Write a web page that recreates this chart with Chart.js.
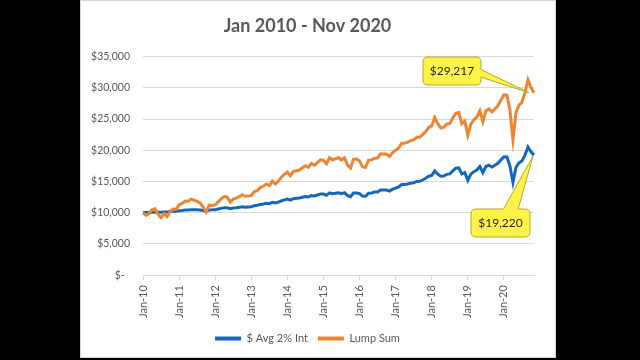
<!DOCTYPE html>
<html>
<head>
<meta charset="utf-8">
<script src="https://cdn.jsdelivr.net/npm/chart.js@4.4.1/dist/chart.umd.min.js"></script>
<style>
  html, body { margin: 0; padding: 0; background: #000; width: 640px; height: 360px; overflow: hidden; }
  #frame { position: absolute; left: 80px; top: 0px; width: 476px; height: 358px; box-sizing: border-box;
           border: 1px solid #d4d4d4; background: #fff; }
  #wrap { position: absolute; left: 0; top: 0; width: 474px; height: 356px; }
</style>
</head>
<body>
<div id="frame"><div id="wrap"><canvas id="c"></canvas></div></div>
<script>
// ---- data ----
const MONTHS = ['Jan','Feb','Mar','Apr','May','Jun','Jul','Aug','Sep','Oct','Nov','Dec'];
const YEARS = ['10','11','12','13','14','15','16','17','18','19','20'];
const categories = [];
YEARS.forEach(y => MONTHS.forEach(m => categories.push(m + '-' + y)));
categories.length = 131; // Jan-10 .. Nov-20

const avgSeries = [10000,10029,10050,10079,10100,10082,10073,10124,10110,10185,10230,10245,10325,
10365,10419,10433,10489,10482,10467,10446,10363,10258,10449,10454,10485,
10589,10693,10781,10776,10625,10738,10785,10854,10939,10891,10914,10950,
11129,11180,11324,11407,11502,11452,11672,11544,11687,11907,12056,12190,
12010,12247,12296,12342,12473,12598,12516,12758,12668,12829,13003,12984,
12778,13161,13044,13115,13201,13052,13208,12738,12556,13158,13172,13043,
12653,12630,13137,13167,13301,13317,13629,13627,13623,13455,13769,13947,
14125,14498,14501,14602,14730,14788,15004,15017,15241,15504,15843,15970,
16676,16165,15825,15865,16144,16211,16691,17111,17176,16186,16431,15175,
16167,16576,16832,17403,16414,17395,17599,17321,17589,17912,18462,18941,
18916,17465,14850,17260,17980,18288,19229,20496,19738,19220];

const lumpSeries = [9963,9595,9869,10449,10603,9734,9209,9843,9376,10197,10572,10548,11237,
11492,11859,11846,12184,12019,11800,11547,10891,10109,11198,11142,11237,
11726,12202,12585,12490,11708,12171,12324,12568,12872,12618,12654,12743,
13386,13534,14021,14274,14571,14352,15062,14591,15025,15695,16135,16515,
15927,16614,16729,16833,17187,17515,17251,17900,17623,18031,18474,18396,
17825,18804,18477,18634,18830,18434,18798,17621,17156,18579,18589,18263,
17336,17265,18404,18453,18736,18753,19421,19398,19374,18997,19647,20004,
20362,21119,21111,21303,21550,21653,22072,22084,22510,23010,23656,23889,
25231,24248,23596,23660,24172,24289,25164,25925,26037,24229,24662,22399,
24162,24880,25326,26321,24590,26285,26630,26148,26598,27141,28065,28867,
28820,26396,21700,26023,27201,27701,29228,31275,30048,29217];

const seriesNames = ['$ Avg 2% Int', 'Lump Sum'];
const yTicks = [0, 5000, 10000, 15000, 20000, 25000, 30000, 35000];
const calloutTexts = ['$19,220', '$29,217'];

// ---- style ----
const BLUE = '#1467c0';
const ORANGE = '#ef8433';
const GRID = '#d9d9d9';
const TEXT = '#595959';
const FONT = 'Lato, "Open Sans", sans-serif';

const calloutPlugin = {
  id: 'callouts',
  afterDatasetsDraw(chart) {
    const ctx = chart.ctx;
    const xs = chart.scales.x, ys = chart.scales.y;
    const last = categories.length - 1;
    const items = [
      { text: calloutTexts[1], tip: { x: xs.getPixelForValue(last) - 5, y: ys.getPixelForValue(lumpSeries[last]) },
        box: { x: 342, y: 56, w: 58, h: 28 }, side: 'right' },
      { text: calloutTexts[0], tip: { x: xs.getPixelForValue(last) - 1, y: ys.getPixelForValue(avgSeries[last]) + 1 },
        box: { x: 390, y: 208, w: 59, h: 28 }, side: 'top' }
    ];
    ctx.save();
    items.forEach(it => {
      const { x, y, w, h } = it.box; const r = 5; const t = it.tip;
      ctx.beginPath();
      ctx.moveTo(x + r, y);
      if (it.side === 'top') { ctx.lineTo(x + w * 0.55, y); ctx.lineTo(t.x, t.y); ctx.lineTo(x + w * 0.8, y); }
      ctx.lineTo(x + w - r, y); ctx.quadraticCurveTo(x + w, y, x + w, y + r);
      if (it.side === 'right') { ctx.lineTo(x + w, y + h * 0.45); ctx.lineTo(t.x, t.y); ctx.lineTo(x + w, y + h * 0.72); }
      ctx.lineTo(x + w, y + h - r); ctx.quadraticCurveTo(x + w, y + h, x + w - r, y + h);
      ctx.lineTo(x + r, y + h); ctx.quadraticCurveTo(x, y + h, x, y + h - r);
      ctx.lineTo(x, y + r); ctx.quadraticCurveTo(x, y, x + r, y);
      ctx.closePath();
      ctx.fillStyle = '#fff34a';
      ctx.fill();
      ctx.lineWidth = 1;
      ctx.strokeStyle = '#b8a82a';
      ctx.stroke();
      ctx.fillStyle = '#262626';
      ctx.font = '12px ' + FONT;
      ctx.textAlign = 'center';
      ctx.textBaseline = 'middle';
      ctx.fillText(it.text, x + w / 2, y + h / 2 + 0.5);
    });
    ctx.restore();
  }
};

new Chart(document.getElementById('c'), {
  type: 'line',
  data: {
    labels: categories,
    datasets: [
      { label: seriesNames[0], data: avgSeries, borderColor: BLUE, backgroundColor: BLUE,
        borderWidth: 3, pointRadius: 0, tension: 0, order: 1 },
      { label: seriesNames[1], data: lumpSeries, borderColor: ORANGE, backgroundColor: ORANGE,
        borderWidth: 3, pointRadius: 0, tension: 0, order: 0 }
    ]
  },
  options: {
    responsive: true,
    maintainAspectRatio: false,
    animation: false,
    layout: { padding: { left: 0, right: 21, top: 0, bottom: 3 } },
    plugins: {
      title: { display: true, text: 'Jan 2010 - Nov 2020', color: TEXT,
               font: { family: FONT, size: 18, weight: 'bold' }, padding: { top: 14, bottom: 20 } },
      legend: {
        position: 'bottom',
        labels: {
          color: TEXT, font: { family: FONT, size: 11 }, boxWidth: 26, boxHeight: 4, padding: 10,
          sort: (a, b) => a.datasetIndex - b.datasetIndex,
          generateLabels: (chart) => Chart.defaults.plugins.legend.labels.generateLabels(chart)
            .map(l => Object.assign(l, { lineWidth: 0, fillStyle: l.strokeStyle }))
        }
      },
      tooltip: { enabled: false }
    },
    scales: {
      x: {
        offset: false,
        grid: { display: true, drawOnChartArea: false, drawTicks: true, tickLength: 5,
                color: (c) => (c.index % 12 === 0 ? GRID : 'rgba(0,0,0,0)') },
        border: { display: true, color: GRID },
        ticks: {
          autoSkip: false, maxRotation: 90, minRotation: 90, padding: 5,
          color: TEXT, font: { family: FONT, size: 11 },
          callback: (v, i) => (i % 12 === 0 ? categories[i] : '')
        }
      },
      y: {
        min: 0, max: 35000,
        afterBuildTicks: (s) => { s.ticks = yTicks.map(v => ({ value: v })); },
        afterFit: (s) => { s.width = 62; },
        grid: { color: GRID, drawTicks: false },
        border: { display: false },
        ticks: {
          padding: 13, color: TEXT, font: { family: FONT, size: 10.5 },
          callback: (v) => (v === 0 ? '$-  ' : '$' + v.toLocaleString('en-US'))
        }
      }
    }
  },
  plugins: [calloutPlugin]
});
</script>
</body>
</html>
